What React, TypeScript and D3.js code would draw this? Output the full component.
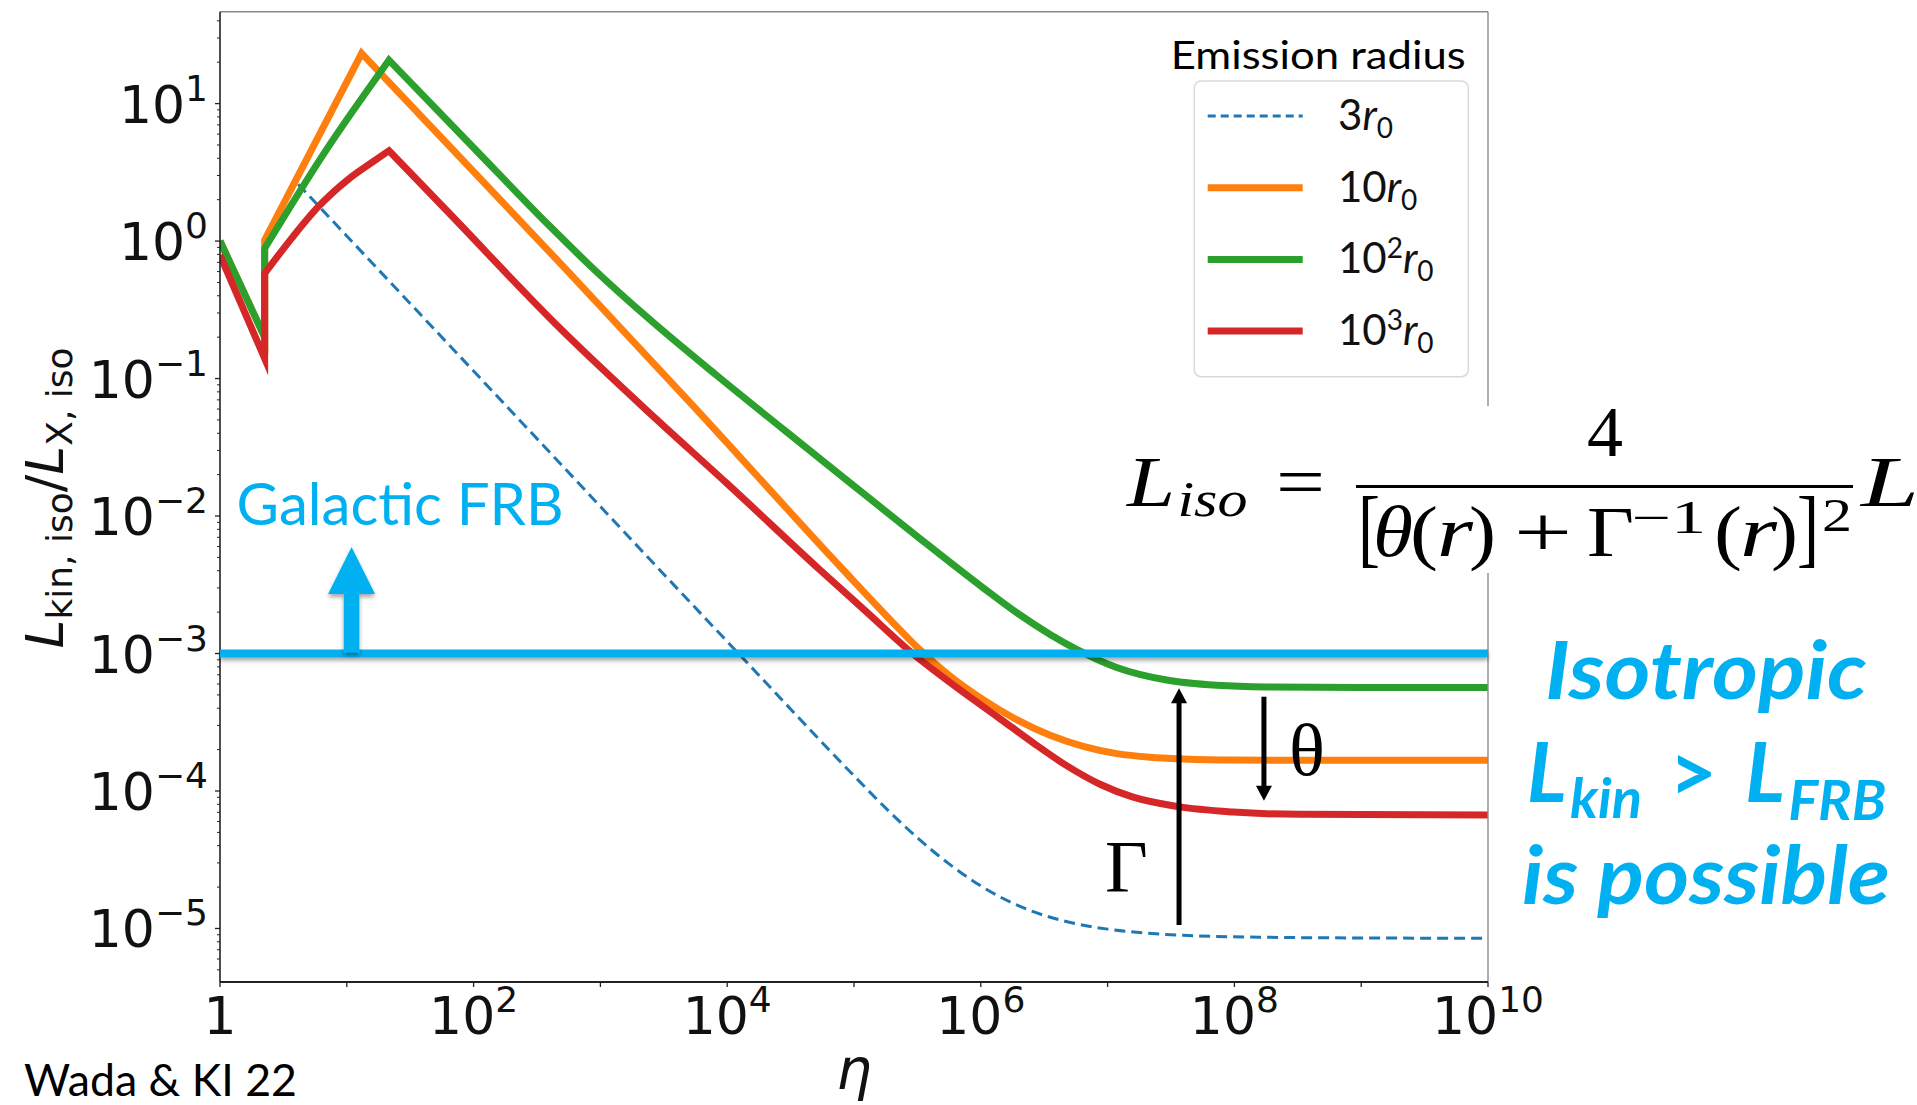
import React from "react";
import * as d3 from "d3";

const W = 1917;
const H = 1105;

// Plot frame in page pixels
const frame = { left: 220, right: 1488, top: 11.7, bottom: 982 };

// Axis limits
const etaDomain: [number, number] = [1, 1e10];
const ratioDomain: [number, number] = [4.08e-6, 46.6];

// Axis ticks
const xMajorTicks = [1, 1e1, 1e2, 1e3, 1e4, 1e5, 1e6, 1e7, 1e8, 1e9, 1e10];
const xLabelValues = [1, 1e2, 1e4, 1e6, 1e8, 1e10];
const xLabelExps = ["", "2", "4", "6", "8", "10"];
const yLabelValues = [1e-5, 1e-4, 1e-3, 1e-2, 1e-1, 1, 10];
const yLabelExps = ["\u22125", "\u22124", "\u22123", "\u22122", "\u22121", "0", "1"];

// L_kin,iso / L_X,iso against eta for each emission radius
const eta3r0 = [1, 2.25, 2.25, 3.98, 480, 2780, 12600, 1e5, 1.78e5, 3.16e5, 5.62e5, 1e6, 1.78e6, 3.16e6, 5.62e6, 1e7, 1.78e7, 3.98e7, 1.78e8, 1e9, 1e10];
const lum3r0 = [1.0, 0.2, 1.0, 2.69, 0.0242, 0.00428, 9.75e-4, 1.29e-4, 7.5e-5, 4.57e-5, 2.95e-5, 2.04e-5, 1.53e-5, 1.245e-5, 1.084e-5, 9.89e-6, 9.33e-6, 8.91e-6, 8.63e-6, 8.53e-6, 8.49e-6];

const eta10r0 = [1, 2.25, 2.25, 13.1, 542, 5410, 82400, 2.0e5, 3.12e5, 4.23e5, 5.71e5, 1.05e6, 1.92e6, 3.52e6, 6.43e6, 1.18e7, 2.16e7, 3.98e7, 1e8, 1e9, 1e10];
const lum10r0 = [1.0, 0.2, 1.017, 23.2, 0.615, 0.0631, 0.00405, 0.0017, 0.00112, 8.67e-4, 6.87e-4, 4.6e-4, 3.3e-4, 2.54e-4, 2.11e-4, 1.87e-4, 1.76e-4, 1.71e-4, 1.68e-4, 1.67e-4, 1.67e-4];

const eta100r0 = [1, 2.25, 2.25, 6.73, 21.5, 100, 398, 879, 2460, 8260, 27700, 92900, 3.12e5, 1.05e6, 1.92e6, 3.52e6, 5.7e6, 1.18e7, 2.92e7, 7.24e7, 1.79e8, 1e9, 1e10];
const lum100r0 = [1.0, 0.2, 0.885, 4.46, 20.7, 4.775, 1.285, 0.6295, 0.268, 0.1054, 0.04276, 0.01746, 0.00716, 0.00299, 0.00198, 0.001377, 0.001072, 7.91e-4, 6.41e-4, 5.87e-4, 5.71e-4, 5.66e-4, 5.66e-4];

const eta1000r0 = [1, 2.25, 2.25, 3.67, 5.96, 10.3, 15.7, 21.5, 63.2, 480, 2460, 10000, 54000, 1.26e5, 2.94e5, 6.31e5, 1.42e6, 2.59e6, 4.75e6, 8.71e6, 1.59e7, 3.5e7, 9.79e7, 3.29e8, 1e10];
const lum1000r0 = [0.791, 0.14, 0.582, 1.047, 1.778, 2.82, 3.72, 4.54, 1.62, 0.232, 0.0558, 0.0172, 0.00405, 0.002, 9.89e-4, 5.75e-4, 3.35e-4, 2.24e-4, 1.53e-4, 1.12e-4, 9.02e-5, 7.73e-5, 7.03e-5, 6.76e-5, 6.68e-5];

// Indices of sharp corners (minimum, jump, peak) in each series
const corners3r0 = [1, 2, 3];
const corners10r0 = [1, 2, 3];
const corners100r0 = [1, 2, 4];
const corners1000r0 = [1, 2, 7];

// Legend entries
const legendLead = ["3", "10", "10", "10"];
const legendSup = ["", "", "2", "3"];
const seriesColors = ["#1f77b4", "#ff7f0e", "#2ca02c", "#d62728"];

// Galactic FRB threshold and annotation anchors (eta, ratio)
const galacticLevel = 1e-3;
const galacticArrow = { eta: 10.9, tip: 5.95e-3 };
const gammaArrow = { eta: 3.66e7, from: 1.06e-5, tip: 5.58e-4 };
const thetaArrow = { eta: 1.71e8, from: 4.85e-4, tip: 8.5e-5 };

const sans = "Lato, 'Open Sans', 'DejaVu Sans', sans-serif";
const mpl = "'DejaVu Sans', sans-serif";
const serif = "'Liberation Serif', 'DejaVu Serif', serif";
const accent = "#00B0F0";

// Denominator of the isotropic-luminosity formula, token by token
const denomTokens = [
  { t: "[", x: 1358, w: 22, size: 86, italic: false, base: 555.6 },
  { t: "θ", x: 1373, w: 40, size: 72, italic: true, base: 555.6 },
  { t: "(", x: 1410, w: 28, size: 72, italic: false, base: 555.6 },
  { t: "r", x: 1437, w: 36, size: 72, italic: true, base: 555.6 },
  { t: ")", x: 1469, w: 27, size: 72, italic: false, base: 555.6 },
  { t: "+", x: 1514, w: 58, size: 72, italic: false, base: 555.6 },
  { t: "Γ", x: 1587, w: 47, size: 72, italic: false, base: 555.6 },
  { t: "−1", x: 1632, w: 74, size: 46, italic: false, base: 532.6 },
  { t: "(", x: 1714, w: 28, size: 72, italic: false, base: 555.6 },
  { t: "r", x: 1740, w: 37, size: 72, italic: true, base: 555.6 },
  { t: ")", x: 1771, w: 27, size: 72, italic: false, base: 555.6 },
  { t: "]", x: 1797, w: 22, size: 86, italic: false, base: 555.6 },
  { t: "2", x: 1822, w: 30, size: 46, italic: false, base: 530.7 },
];

export default function App() {
  const x = d3.scaleLog().domain(etaDomain).range([frame.left, frame.right]);
  const y = d3.scaleLog().domain(ratioDomain).range([frame.bottom, frame.top]);
  const straight = d3
    .line<[number, number]>()
    .x((d) => x(d[0]))
    .y((d) => y(d[1]))
    .curve(d3.curveLinear);
  const smooth = d3
    .line<[number, number]>()
    .x((d) => x(d[0]))
    .y((d) => y(d[1]))
    .curve(d3.curveMonotoneX);

  // Straight pieces between sharp corners, smooth pieces elsewhere, joined into one path
  const buildPath = (pts: [number, number][], corners: number[]) => {
    const cuts = [0, ...corners, pts.length - 1];
    let d = "";
    for (let i = 0; i < cuts.length - 1; i++) {
      const seg = pts.slice(cuts[i], cuts[i + 1] + 1);
      const gen = seg.length >= 3 ? smooth : straight;
      const part = gen(seg) || "";
      d += i === 0 ? part : "L" + part.slice(1);
    }
    return d;
  };

  const series = [
    { pts: d3.zip(eta3r0, lum3r0) as [number, number][], corners: corners3r0, color: seriesColors[0], width: 3, dash: "11 6" },
    { pts: d3.zip(eta10r0, lum10r0) as [number, number][], corners: corners10r0, color: seriesColors[1], width: 7, dash: undefined },
    { pts: d3.zip(eta100r0, lum100r0) as [number, number][], corners: corners100r0, color: seriesColors[2], width: 7, dash: undefined },
    { pts: d3.zip(eta1000r0, lum1000r0) as [number, number][], corners: corners1000r0, color: seriesColors[3], width: 7, dash: undefined },
  ];

  const yMinor: number[] = [];
  for (let e = -6; e <= 1; e++) {
    for (let k = 2; k <= 9; k++) {
      const v = k * Math.pow(10, e);
      if (v >= ratioDomain[0] && v <= ratioDomain[1]) yMinor.push(v);
    }
  }

  const gY = y(galacticLevel);
  const gx = x(galacticArrow.eta);
  const gTip = y(galacticArrow.tip);
  const gHeadBase = gTip + 47;

  const legendBaselines = [130, 201.7, 273.4, 345.1];

  const arrowHead = (cx: number, tipY: number, dir: number, half: number, len: number) =>
    `${cx},${tipY} ${cx - half},${tipY + dir * len} ${cx + half},${tipY + dir * len}`;

  const gmX = x(gammaArrow.eta);
  const gmTip = y(gammaArrow.tip);
  const thX = x(thetaArrow.eta);
  const thTip = y(thetaArrow.tip);

  return (
    <svg
      width={W}
      height={H}
      viewBox={`0 0 ${W} ${H}`}
      style={{ position: "absolute", left: 0, top: 0, background: "#fff" }}
    >
      <defs>
        <clipPath id="plotClip">
          <rect x={frame.left} y={frame.top} width={frame.right - frame.left} height={frame.bottom - frame.top} />
        </clipPath>
        <filter id="shadow" x="-10%" y="-60%" width="120%" height="250%">
          <feDropShadow dx="0" dy="3" stdDeviation="2" floodColor="#000" floodOpacity="0.35" />
        </filter>
      </defs>
      <rect x={0} y={0} width={W} height={H} fill="#fff" />

      {/* curves */}
      <g clipPath="url(#plotClip)">
        {series.map((s, i) => (
          <path
            key={i}
            d={buildPath(s.pts, s.corners)}
            fill="none"
            stroke={s.color}
            strokeWidth={s.width}
            strokeDasharray={s.dash}
            strokeLinejoin="miter"
            strokeMiterlimit={10}
          />
        ))}
      </g>

      {/* spines */}
      <line x1={frame.left} x2={frame.right} y1={frame.top} y2={frame.top} stroke="#8a8a8a" strokeWidth={1.6} />
      <line x1={frame.right} x2={frame.right} y1={frame.top} y2={frame.bottom} stroke="#8a8a8a" strokeWidth={1.4} />
      <line x1={frame.left} x2={frame.left} y1={frame.top} y2={frame.bottom} stroke="#222" strokeWidth={1.6} />
      <line x1={frame.left} x2={frame.right} y1={frame.bottom} y2={frame.bottom} stroke="#222" strokeWidth={1.8} />

      {/* x ticks */}
      {xMajorTicks.map((t) => (
        <line key={t} x1={x(t)} x2={x(t)} y1={frame.bottom} y2={frame.bottom + 5} stroke="#222" strokeWidth={1.3} />
      ))}
      {xLabelValues.map((t, i) => (
        <text key={t} x={x(t)} y={1034} textAnchor="middle" fontFamily={mpl} fontSize={52} fill="#111">
          {xLabelExps[i] === "" ? "1" : "10"}
          {xLabelExps[i] !== "" && (
            <tspan fontSize={36} dy={-22}>
              {xLabelExps[i]}
            </tspan>
          )}
        </text>
      ))}

      {/* y ticks */}
      {yLabelValues.map((t) => (
        <line key={t} x1={frame.left - 5} x2={frame.left} y1={y(t)} y2={y(t)} stroke="#222" strokeWidth={1.3} />
      ))}
      {yMinor.map((t) => (
        <line key={"m" + t} x1={frame.left - 3} x2={frame.left} y1={y(t)} y2={y(t)} stroke="#222" strokeWidth={1} />
      ))}
      {yLabelValues.map((t, i) => (
        <text key={"l" + t} x={208} y={y(t) + 19} textAnchor="end" fontFamily={mpl} fontSize={52} fill="#111">
          10
          <tspan fontSize={36} dy={-22}>
            {yLabelExps[i]}
          </tspan>
        </text>
      ))}

      {/* axis titles */}
      <text transform="translate(62.5,498) rotate(-90)" textAnchor="middle" fontFamily={mpl} fontSize={52} fill="#111">
        <tspan fontStyle="italic">L</tspan>
        <tspan fontSize={36} dy={9}>kin, iso</tspan>
        <tspan dy={-9}>/</tspan>
        <tspan fontStyle="italic">L</tspan>
        <tspan fontSize={36} dy={9}>X, iso</tspan>
      </text>
      <text x={(frame.left + frame.right) / 2} y={1089} textAnchor="middle" fontFamily={mpl} fontStyle="italic" fontSize={56} fill="#111">
        η
      </text>

      {/* Galactic FRB threshold */}
      <rect x={frame.left} y={gY - 4} width={frame.right - frame.left} height={8} fill={accent} filter="url(#shadow)" />
      <g filter="url(#shadow)">
        <rect x={gx - 7.8} y={gHeadBase - 1} width={15.6} height={gY - gHeadBase} fill={accent} />
        <polygon points={arrowHead(gx, gTip, 1, 23.5, 47)} fill={accent} />
      </g>
      <text x={236.6} y={525.3} fontFamily={sans} fontSize={58} fill={accent} textLength={327} lengthAdjust="spacingAndGlyphs">
        Galactic FRB
      </text>

      {/* legend */}
      <text x={1170.7} y={69.3} fontFamily={sans} fontSize={39} fill="#000" textLength={295} lengthAdjust="spacingAndGlyphs">
        Emission radius
      </text>
      <rect x={1194.3} y={81} width={274} height={295.7} rx={7} fill="#fff" fillOpacity={0.8} stroke="#dadada" strokeWidth={1.5} />
      {legendLead.map((lead, i) => {
        const b = legendBaselines[i];
        const s = series[i];
        return (
          <g key={i}>
            <line x1={1207.7} x2={1302.7} y1={b - 14} y2={b - 14} stroke={s.color} strokeWidth={s.width} strokeDasharray={s.dash ? "8 5" : undefined} />
            <text x={1338} y={b} fontFamily={sans} fontSize={42} fill="#111">
              {lead}
              {legendSup[i] !== "" && (
                <tspan fontSize={28} dy={-15}>
                  {legendSup[i]}
                </tspan>
              )}
              <tspan fontStyle="italic" dy={legendSup[i] !== "" ? 15 : 0}>
                r
              </tspan>
              <tspan fontSize={28} dy={8}>
                0
              </tspan>
            </text>
          </g>
        );
      })}

      {/* formula panel */}
      <rect x={1110} y={406} width={W - 1110} height={167} fill="#fff" />
      <g fontFamily={serif} fill="#000">
        <g transform="translate(1127,505.7) scale(1.2,1)">
          <text x={0} y={0} fontSize={72} fontStyle="italic">
            L
            <tspan fontSize={50} dx={2} dy={10.3}>iso</tspan>
          </text>
        </g>
        <text x={1276} y={506} fontSize={72} textLength={49} lengthAdjust="spacingAndGlyphs">=</text>
        <line x1={1356} x2={1853} y1={486.6} y2={486.6} stroke="#000" strokeWidth={3} />
        <text x={1605} y={456} fontSize={72} textAnchor="middle">4</text>
        {denomTokens.map((tk, i) => (
          <text
            key={i}
            x={tk.x}
            y={tk.base}
            fontSize={tk.size}
            fontStyle={tk.italic ? "italic" : "normal"}
            textLength={tk.w}
            lengthAdjust="spacingAndGlyphs"
          >
            {tk.t}
          </text>
        ))}
        <text x={1861} y={505.7} fontSize={72} fontStyle="italic" textLength={58} lengthAdjust="spacingAndGlyphs">L</text>
      </g>

      {/* Gamma / theta annotations */}
      <line x1={gmX} x2={gmX} y1={y(gammaArrow.from)} y2={gmTip + 12} stroke="#000" strokeWidth={5} />
      <polygon points={arrowHead(gmX, gmTip, 1, 8, 15)} fill="#000" />
      <text x={1105} y={891.7} fontFamily={serif} fontSize={74} fill="#000">Γ</text>
      <line x1={thX} x2={thX} y1={y(thetaArrow.from)} y2={thTip - 12} stroke="#000" strokeWidth={5} />
      <polygon points={arrowHead(thX, thTip, -1, 8, 15)} fill="#000" />
      <text x={1289} y={775} fontFamily={serif} fontSize={75} fill="#000">θ</text>

      {/* conclusion */}
      <g fontFamily={sans} fontWeight={700} fontStyle="italic" fill={accent}>
        <text x={1706} y={699.3} fontSize={80} textAnchor="middle" textLength={322} lengthAdjust="spacingAndGlyphs">
          Isotropic
        </text>
        <text x={1526.7} y={801.7} fontSize={83}>L</text>
        <text x={1570} y={818.3} fontSize={55} textLength={72} lengthAdjust="spacingAndGlyphs">kin</text>
        <text x={1669} y={801.7} fontSize={83} fontStyle="normal">&gt;</text>
        <text x={1745} y={801.7} fontSize={83}>L</text>
        <text x={1788.3} y={820} fontSize={55} textLength={98} lengthAdjust="spacingAndGlyphs">FRB</text>
        <text x={1706} y={904} fontSize={80} textAnchor="middle" textLength={368} lengthAdjust="spacingAndGlyphs">
          is possible
        </text>
      </g>

      {/* citation */}
      <text x={24} y={1096} fontFamily={sans} fontSize={44.6} fill="#000" textLength={273} lengthAdjust="spacingAndGlyphs">
        Wada &amp; KI 22
      </text>
    </svg>
  );
}
